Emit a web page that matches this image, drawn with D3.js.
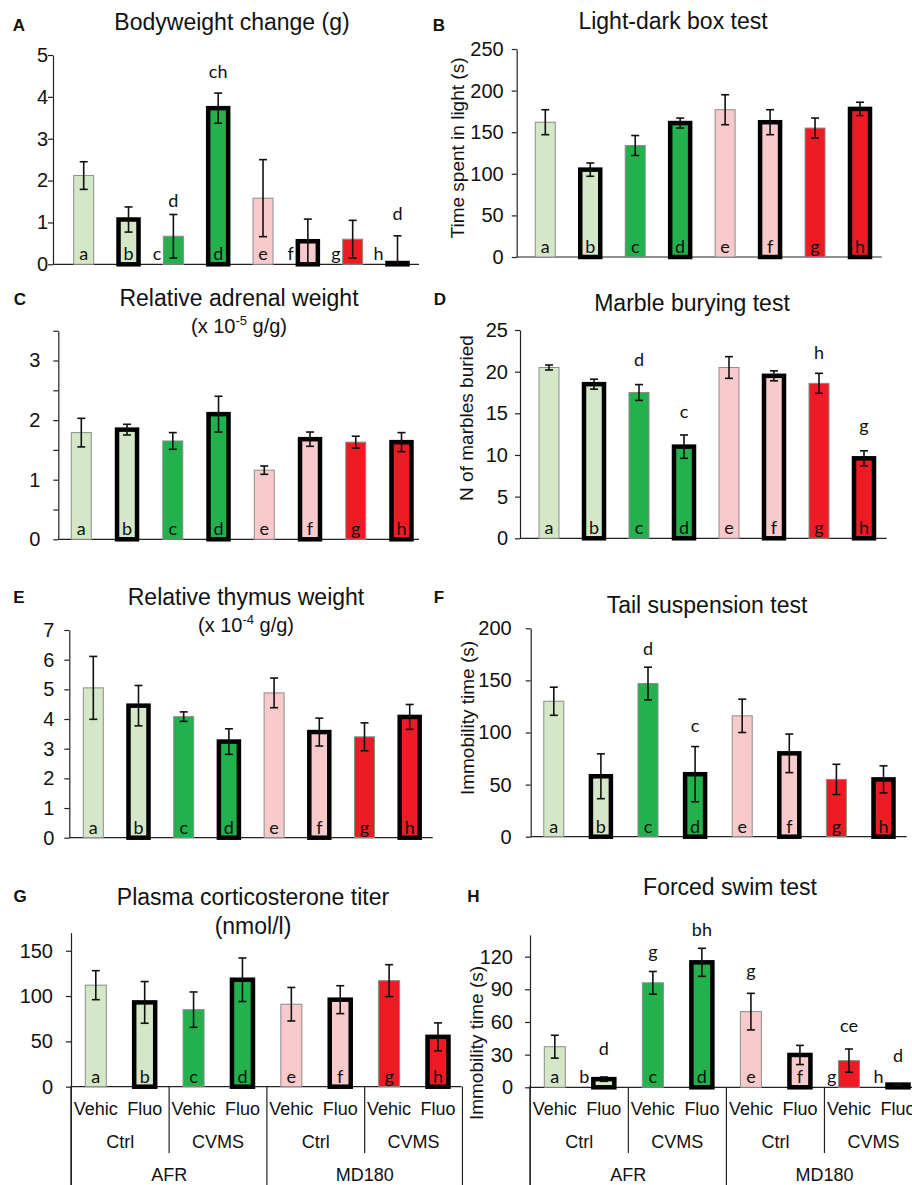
<!DOCTYPE html>
<html>
<head>
<meta charset="utf-8">
<script src="https://cdn.jsdelivr.net/npm/d3@7"></script>
<style>
  body { margin: 0; background: #fff; }
  svg { display: block; }
  text { font-family: "Liberation Sans", Arial, sans-serif; fill: #111; }
  .let { font-family: Lato, "Open Sans", sans-serif; }
</style>
</head>
<body>
<script>
// groups: strain x stress x treatment
let groups = ["a", "b", "c", "d", "e", "f", "g", "h"]
let treatments = ["Vehic", "Fluo", "Vehic", "Fluo", "Vehic", "Fluo", "Vehic", "Fluo"]
let stressLevels = ["Ctrl", "CVMS", "Ctrl", "CVMS"]
let strains = ["AFR", "MD180"]

// A bodyweight change (g)
let bwMean = [2.12, 1.07, 0.67, 3.73, 1.58, 0.55, 0.60, 0.03]
let bwSE = [0.33, 0.30, 0.52, 0.36, 0.92, 0.53, 0.45, 0.65]
let bwSig = ["", "", "d", "ch", "", "", "", "d"]
let bwSigAt = [0, 0, 1.38, 4.45, 0, 0, 0, 1.06]
let bwOutside = [0, 0, 1, 0, 0, 1, 1, 1]

// B light-dark box (s)
let ldMean = [162, 105, 134, 161, 177, 162, 155, 178]
let ldSE = [15, 8, 12, 6, 18, 15, 12, 8]

// C adrenal weight
let adMean = [1.79, 1.84, 1.65, 2.10, 1.16, 1.68, 1.63, 1.63]
let adSE = [0.24, 0.09, 0.14, 0.30, 0.07, 0.12, 0.10, 0.16]

// D marbles buried
let mbMean = [20.5, 18.5, 17.5, 11.0, 20.5, 19.5, 18.6, 9.6]
let mbSE = [0.3, 0.6, 0.95, 1.4, 1.3, 0.6, 1.2, 0.9]
let mbSig = ["", "", "d", "c", "", "", "h", "g"]
let mbSigAt = [0, 0, 20.7, 14.4, 0, 0, 21.5, 12.8]

// E thymus weight
let thMean = [5.05, 4.45, 4.08, 3.24, 4.88, 3.56, 3.40, 4.07]
let thSE = [1.06, 0.68, 0.16, 0.43, 0.50, 0.47, 0.47, 0.42]

// F tail suspension (s)
let tsMean = [130, 58, 147, 60, 116, 80, 55, 55]
let tsSE = [13.5, 21.5, 15.7, 26.5, 16, 18.5, 14.5, 13]
let tsSig = ["", "", "d", "c", "", "", "", ""]
let tsSigAt = [0, 0, 174.4, 100.8, 0, 0, 0, 0]

// G corticosterone (nmol/l)
let coMean = [112, 93, 85, 118, 91, 96, 117, 55]
let coSE = [16, 23, 19.5, 24, 18.5, 15.4, 17.6, 15.4]

// H forced swim (s)
let fsMean = [37.3, 7.5, 96, 114.8, 69.5, 29.7, 24.5, 2.5]
let fsSE = [10.5, 2, 10.4, 12.9, 16.8, 8.8, 10.7, 0.5]
let fsSig = ["", "d", "g", "bh", "g", "", "ce", "d"]
let fsSigAt = [0, 29.7, 118.5, 139, 101, 0, 51.1, 23.5]
let fsOutside = [0, 1, 0, 0, 0, 0, 1, 1]

let fills = ["#d4e8c8", "#d4e8c8", "#22b14c", "#22b14c", "#f9cacb", "#f9cacb", "#ed1c24", "#ed1c24"]

let width = 912
let height = 1185

let svg = d3.select("body")
    .append("svg")
    .attr("width", width)
    .attr("height", height)

function drawPanel(p) {
    let g = svg.append("g")
    let y = d3.scaleLinear().domain([0, p.max]).range([p.y0, p.yTop])
    let x = d3.scalePoint().domain(groups).range([p.c0, p.c1])
    let bw = p.bw || 20

    // y axis
    let ax = g.append("g")
        .attr("transform", `translate(${p.ax},0)`)
        .call(d3.axisLeft(y)
            .tickValues(p.ticks)
            .tickSize(5)
            .tickSizeOuter(0)
            .tickPadding(p.pad)
            .tickFormat(d => Number.isInteger(d) ? d : ""))
    ax.selectAll("path, line").attr("stroke", "#222").attr("stroke-width", 1.2)
    ax.selectAll("text")
        .attr("font-size", 20)
        .attr("font-family", "'Liberation Sans', Arial, sans-serif")
        .attr("fill", "#111")

    // x axis line
    g.append("line")
        .attr("x1", p.ax).attr("x2", p.xEnd)
        .attr("y1", p.y0).attr("y2", p.y0)
        .attr("stroke", "#222").attr("stroke-width", 1.2)

    let rows = groups.map((k, i) => ({ k: k, i: i, m: p.mean[i], se: p.se[i], fluo: treatments[i] == "Fluo" }))

    g.selectAll("rect.bar")
        .data(rows)
        .enter()
        .append("rect")
        .attr("class", "bar")
        .attr("x", d => x(d.k) - bw / 2)
        .attr("y", d => y(d.m))
        .attr("width", bw)
        .attr("height", d => p.y0 - y(d.m))
        .attr("fill", d => fills[d.i])
        .attr("stroke", d => d.fluo ? "#000" : "#8c8c8c")
        .attr("stroke-width", d => d.fluo ? 4.5 : 1)

    // error bars
    let eb = g.selectAll("g.err")
        .data(rows)
        .enter()
        .append("g")
        .attr("class", "err")
    eb.append("line")
        .attr("x1", d => x(d.k)).attr("x2", d => x(d.k))
        .attr("y1", d => y(Math.max(0, d.m - d.se)))
        .attr("y2", d => y(d.m + d.se))
    eb.append("line")
        .attr("x1", d => x(d.k) - 4).attr("x2", d => x(d.k) + 4)
        .attr("y1", d => y(d.m + d.se)).attr("y2", d => y(d.m + d.se))
    eb.filter(d => d.m - d.se > 0).append("line")
        .attr("x1", d => x(d.k) - 4).attr("x2", d => x(d.k) + 4)
        .attr("y1", d => y(d.m - d.se)).attr("y2", d => y(d.m - d.se))
    eb.selectAll("line").attr("stroke", "#111").attr("stroke-width", 1.6)

    // group letters at the base
    let out = p.outside || groups.map(() => 0)
    g.selectAll("text.grp")
        .data(rows)
        .enter()
        .append("text")
        .attr("class", "let grp")
        .attr("x", d => out[d.i] ? x(d.k) - bw / 2 - (d.fluo ? 4 : 2) : x(d.k))
        .attr("y", p.y0 - 4)
        .attr("text-anchor", d => out[d.i] ? "end" : "middle")
        .attr("font-size", 18)
        .text(d => d.k)

    // significance letters
    if (p.sig) {
        g.selectAll("text.sig")
            .data(rows.filter(d => p.sig[d.i] != ""))
            .enter()
            .append("text")
            .attr("class", "let sig")
            .attr("x", d => x(d.k))
            .attr("y", d => y(p.sigAt[d.i]))
            .attr("text-anchor", "middle")
            .attr("font-size", 18)
            .text(d => p.sig[d.i])
    }

    // category axis (bottom panels)
    if (p.cats) {
        let step = x.step()
        let yb = p.y0
        g.selectAll("text.trt")
            .data(rows)
            .enter()
            .append("text")
            .attr("x", d => x(d.k))
            .attr("y", 1115)
            .attr("text-anchor", "middle")
            .attr("font-size", 18)
            .text(d => treatments[d.i])
        g.selectAll("text.str")
            .data(stressLevels)
            .enter()
            .append("text")
            .attr("x", (d, i) => x(groups[2 * i]) + step / 2)
            .attr("y", 1148)
            .attr("text-anchor", "middle")
            .attr("font-size", 18)
            .text(d => d)
        g.selectAll("text.stn")
            .data(strains)
            .enter()
            .append("text")
            .attr("x", (d, i) => x(groups[4 * i]) + step * 1.5)
            .attr("y", 1181)
            .attr("text-anchor", "middle")
            .attr("font-size", 18)
            .text(d => d)
        // separators
        let seps = [0, 2, 4, 6, 8].map(i => ({ xx: p.c0 - step / 2 + i * step, long: i % 4 == 0 }))
        g.selectAll("line.sep")
            .data(seps)
            .enter()
            .append("line")
            .attr("x1", d => d.xx).attr("x2", d => d.xx)
            .attr("y1", yb)
            .attr("y2", d => d.long ? height : 1153)
            .attr("stroke", "#222").attr("stroke-width", 1.2)
    }

    // titles
    p.title.forEach((t, i) => {
        let tt = g.append("text")
            .attr("x", p.tx)
            .attr("y", p.ty[i])
            .attr("text-anchor", "middle")
            .attr("font-size", t.size)
        if (t.sup) {
            tt.append("tspan").text(t.text)
            tt.append("tspan").attr("dy", -8).attr("font-size", 13).text(t.sup)
            tt.append("tspan").attr("dy", 8).text(t.rest)
        } else {
            tt.text(t.text)
        }
    })

    g.append("text")
        .attr("x", p.lx).attr("y", p.ly)
        .attr("text-anchor", "middle")
        .attr("font-weight", "bold")
        .attr("font-size", 17)
        .text(p.label)

    if (p.ylab) {
        g.append("text")
            .attr("transform", `translate(${p.ylx},${p.yly}) rotate(-90)`)
            .attr("text-anchor", "middle")
            .attr("dominant-baseline", "central")
            .attr("font-size", 19)
            .text(p.ylab)
    }
}

drawPanel({ label: "A", lx: 19, ly: 31, mean: bwMean, se: bwSE, sig: bwSig, sigAt: bwSigAt, outside: bwOutside,
    ax: 53, xEnd: 419, y0: 264.3, yTop: 55, max: 5, ticks: d3.range(0, 5.01, 1), c0: 83.7, c1: 397.5, pad: 0,
    title: [{ text: "Bodyweight change (g)", size: 23 }], tx: 232, ty: [30] })

drawPanel({ label: "B", lx: 439, ly: 31, mean: ldMean, se: ldSE,
    ax: 516.7, xEnd: 881.7, y0: 257, yTop: 49, max: 250, ticks: d3.range(0, 251, 50), c0: 545.3, c1: 860, pad: 8,
    title: [{ text: "Light-dark box test", size: 23 }], tx: 673, ty: [29],
    ylab: "Time spent in light (s)", ylx: 457.5, yly: 148 })

drawPanel({ label: "C", lx: 20, ly: 305, mean: adMean, se: adSE,
    ax: 58.3, xEnd: 419, y0: 539.3, yTop: 330.7, max: 3.5, ticks: d3.range(0, 3.51, 0.5), c0: 81.3, c1: 401.5, pad: 13,
    title: [{ text: "Relative adrenal weight", size: 23 }, { text: "(x 10", sup: "-5", rest: " g/g)", size: 20 }],
    tx: 239, ty: [306, 333] })

drawPanel({ label: "D", lx: 440, ly: 305, mean: mbMean, se: mbSE, sig: mbSig, sigAt: mbSigAt,
    ax: 520, xEnd: 886.7, y0: 538.3, yTop: 330, max: 25, ticks: d3.range(0, 25.1, 5), c0: 549, c1: 864, pad: 7,
    title: [{ text: "Marble burying test", size: 23 }], tx: 692, ty: [311],
    ylab: "N of marbles buried", ylx: 466, yly: 418 })

drawPanel({ label: "E", lx: 19, ly: 603, mean: thMean, se: thSE,
    ax: 69.3, xEnd: 432.7, y0: 837.7, yTop: 630, max: 7, ticks: d3.range(0, 7.01, 1), c0: 93.3, c1: 409.7, pad: 10,
    title: [{ text: "Relative thymus weight", size: 23 }, { text: "(x 10", sup: "-4", rest: " g/g)", size: 20 }],
    tx: 246, ty: [605, 632] })

drawPanel({ label: "F", lx: 439, ly: 603, mean: tsMean, se: tsSE, sig: tsSig, sigAt: tsSigAt,
    ax: 530.7, xEnd: 906.7, y0: 836.7, yTop: 628.3, max: 200, ticks: d3.range(0, 201, 50), c0: 553.8, c1: 883.5, pad: 14,
    title: [{ text: "Tail suspension test", size: 23 }], tx: 707, ty: [613],
    ylab: "Immobility time (s)", ylx: 467.5, yly: 718 })

drawPanel({ label: "G", lx: 20, ly: 902, mean: coMean, se: coSE, cats: true, bw: 21,
    ax: 71, xEnd: 461.7, y0: 1086.7, yTop: 932.6, max: 170, ticks: [0, 50, 100, 150], c0: 95.8, c1: 438, pad: 13,
    title: [{ text: "Plasma corticosterone titer", size: 23 }, { text: "(nmol/l)", size: 23 }], tx: 253, ty: [905, 934] })

drawPanel({ label: "H", lx: 473.5, ly: 902, mean: fsMean, se: fsSE, sig: fsSig, sigAt: fsSigAt, outside: fsOutside, cats: true, bw: 21,
    ax: 530, xEnd: 920, y0: 1087.3, yTop: 934.9, max: 140, ticks: d3.range(0, 121, 30), c0: 554.8, c1: 898, pad: 12,
    title: [{ text: "Forced swim test", size: 23 }], tx: 730, ty: [895],
    ylab: "Immobility time (s)", ylx: 476, yly: 1043 })

// left axes of the bottom panels run down through the category labels
svg.selectAll("line.axext")
    .data([71, 530])
    .enter()
    .append("line")
    .attr("x1", d => d).attr("x2", d => d)
    .attr("y1", 1086).attr("y2", height)
    .attr("stroke", "#222").attr("stroke-width", 1.2)
</script>
</body>
</html>
